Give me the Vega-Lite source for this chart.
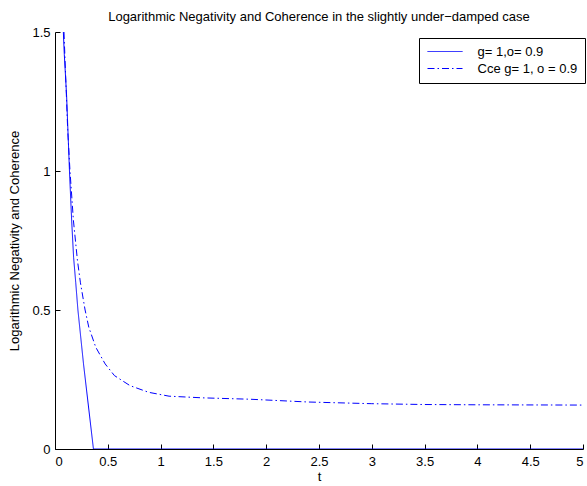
{
  "$schema": "https://vega.github.io/schema/vega-lite/v6.json",
  "width": 528,
  "height": 417,
  "autosize": {"type": "none"},
  "padding": {"left": 55, "top": 32, "right": 4, "bottom": 37},
  "background": "white",
  "config": {
    "font": "Liberation Sans",
    "view": {"stroke": null},
    "axis": {
      "grid": false,
      "domainColor": "black",
      "domainWidth": 1,
      "tickColor": "black",
      "tickWidth": 1,
      "tickSize": -5,
      "labelFont": "Liberation Sans",
      "labelFontSize": 13,
      "labelColor": "black",
      "titleFont": "Liberation Sans",
      "titleFontSize": 13,
      "titleFontWeight": "normal",
      "titleColor": "black"
    },
    "legend": {
      "orient": "none",
      "legendX": 364,
      "legendY": 6,
      "strokeColor": "black",
      "fillColor": "white",
      "padding": 7,
      "title": null,
      "symbolType": "M-3.5,0H3.5",
      "symbolStrokeColor": "#0000ff",
      "symbolFillColor": "transparent",
      "symbolStrokeWidth": 1,
      "symbolSize": 100,
      "symbolOffset": 12.5,
      "labelFont": "Liberation Sans",
      "labelFontSize": 13,
      "labelColor": "black",
      "labelOffset": 26,
      "rowPadding": 3
    }
  },
  "title": {
    "text": "Logarithmic Negativity and Coherence in the slightly under\u2212damped case",
    "font": "Liberation Sans",
    "fontSize": 13,
    "fontWeight": "normal",
    "color": "black",
    "anchor": "middle",
    "offset": 2
  },
  "data": {
    "values": [
      {"t": 0.079, "v": 1.5, "s": "g= 1,o= 0.9"},
      {"t": 0.088, "v": 1.42, "s": "g= 1,o= 0.9"},
      {"t": 0.11, "v": 1.27, "s": "g= 1,o= 0.9"},
      {"t": 0.125, "v": 1.12, "s": "g= 1,o= 0.9"},
      {"t": 0.137, "v": 1.0, "s": "g= 1,o= 0.9"},
      {"t": 0.158, "v": 0.82, "s": "g= 1,o= 0.9"},
      {"t": 0.176, "v": 0.69, "s": "g= 1,o= 0.9"},
      {"t": 0.196, "v": 0.6, "s": "g= 1,o= 0.9"},
      {"t": 0.217, "v": 0.5, "s": "g= 1,o= 0.9"},
      {"t": 0.27, "v": 0.306, "s": "g= 1,o= 0.9"},
      {"t": 0.364, "v": 0.0, "s": "g= 1,o= 0.9"},
      {"t": 1.0, "v": 0.0, "s": "g= 1,o= 0.9"},
      {"t": 2.0, "v": 0.0, "s": "g= 1,o= 0.9"},
      {"t": 3.0, "v": 0.0, "s": "g= 1,o= 0.9"},
      {"t": 4.0, "v": 0.0, "s": "g= 1,o= 0.9"},
      {"t": 5.0, "v": 0.0, "s": "g= 1,o= 0.9"},
      {"t": 0.085, "v": 1.5, "s": "Cce g= 1, o = 0.9"},
      {"t": 0.1, "v": 1.35, "s": "Cce g= 1, o = 0.9"},
      {"t": 0.12, "v": 1.15, "s": "Cce g= 1, o = 0.9"},
      {"t": 0.142, "v": 1.0, "s": "Cce g= 1, o = 0.9"},
      {"t": 0.174, "v": 0.824, "s": "Cce g= 1, o = 0.9"},
      {"t": 0.212, "v": 0.68, "s": "Cce g= 1, o = 0.9"},
      {"t": 0.24, "v": 0.6, "s": "Cce g= 1, o = 0.9"},
      {"t": 0.285, "v": 0.5, "s": "Cce g= 1, o = 0.9"},
      {"t": 0.32, "v": 0.438, "s": "Cce g= 1, o = 0.9"},
      {"t": 0.386, "v": 0.366, "s": "Cce g= 1, o = 0.9"},
      {"t": 0.475, "v": 0.306, "s": "Cce g= 1, o = 0.9"},
      {"t": 0.563, "v": 0.264, "s": "Cce g= 1, o = 0.9"},
      {"t": 0.71, "v": 0.228, "s": "Cce g= 1, o = 0.9"},
      {"t": 0.886, "v": 0.204, "s": "Cce g= 1, o = 0.9"},
      {"t": 1.08, "v": 0.19, "s": "Cce g= 1, o = 0.9"},
      {"t": 1.4, "v": 0.184, "s": "Cce g= 1, o = 0.9"},
      {"t": 1.85, "v": 0.179, "s": "Cce g= 1, o = 0.9"},
      {"t": 2.4, "v": 0.169, "s": "Cce g= 1, o = 0.9"},
      {"t": 3.0, "v": 0.163, "s": "Cce g= 1, o = 0.9"},
      {"t": 3.5, "v": 0.16, "s": "Cce g= 1, o = 0.9"},
      {"t": 4.0, "v": 0.159, "s": "Cce g= 1, o = 0.9"},
      {"t": 5.0, "v": 0.158, "s": "Cce g= 1, o = 0.9"}
    ]
  },
  "mark": {"type": "line", "color": "#0000ff", "strokeWidth": 1, "clip": true},
  "encoding": {
    "x": {
      "field": "t",
      "type": "quantitative",
      "scale": {"domain": [0, 5], "nice": false, "zero": false},
      "axis": {"values": [0, 0.5, 1, 1.5, 2, 2.5, 3, 3.5, 4, 4.5, 5], "format": "~g", "title": "t", "labelPadding": 11, "titlePadding": 2}
    },
    "y": {
      "field": "v",
      "type": "quantitative",
      "scale": {"domain": [0, 1.5], "nice": false},
      "axis": {"values": [0, 0.5, 1, 1.5], "format": "~g", "title": "Logarithmic Negativity and Coherence", "labelPadding": 10, "titlePadding": 10}
    },
    "strokeDash": {
      "field": "s",
      "type": "nominal",
      "scale": {"domain": ["g= 1,o= 0.9", "Cce g= 1, o = 0.9"], "range": [[1, 0], [7, 3, 1.5, 3]]},
      "sort": null
    }
  }
}
